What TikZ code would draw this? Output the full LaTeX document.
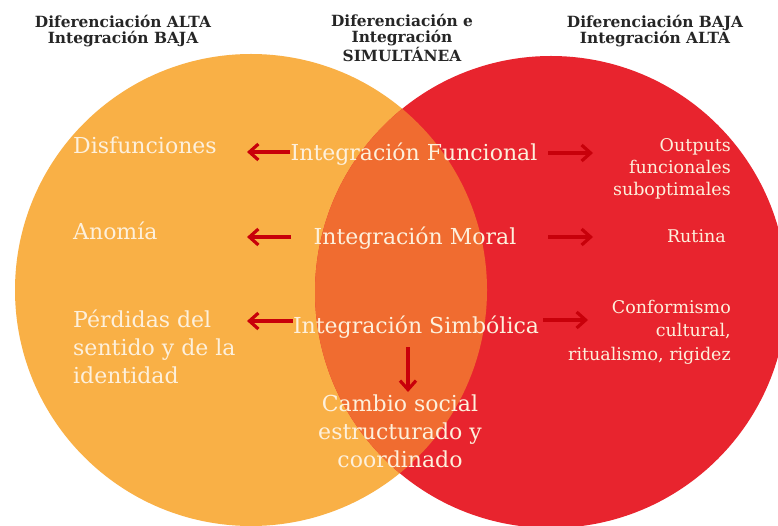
\documentclass[tikz,border=0pt]{standalone}
\usepackage{fontspec}
\setmainfont{DejaVu Serif}
\usetikzlibrary{arrows.meta}
\definecolor{orng}{HTML}{F9B046}
\definecolor{rd}{HTML}{E8242E}
\definecolor{ovl}{HTML}{F06C30}
\definecolor{cream}{HTML}{FDF0DC}
\definecolor{arrred}{HTML}{C8000A}
\definecolor{hdrc}{HTML}{262626}
\begin{document}
\begin{tikzpicture}[x=1pt,y=-1pt,
  hdr/.style={font=\bfseries\fontsize{15.4}{15.5}\selectfont, text=hdrc, align=center, inner sep=0pt},
  lbl/.style={font=\fontsize{22}{28}\selectfont, text=cream, inner sep=0pt},
  sml/.style={font=\fontsize{17.5}{22}\selectfont, text=cream, inner sep=0pt, align=right},
  arr/.style={draw=arrred, line width=3.2pt, -{Straight Barb[length=9pt,width=16pt]}}]
\clip (0,0) rectangle (778,526);
\fill[white] (0,0) rectangle (778,526);
\fill[orng] (251,290) circle (236);
\fill[rd] (551,292) circle (236);
\begin{scope}
\clip (251,290) circle (236);
\fill[ovl] (551,292) circle (236);
\end{scope}
% headers
\node[hdr] (h1) at (123,31) {Diferenciación ALTA\\Integración BAJA};
\node[hdr] (h2) at (402,38) {Diferenciación e\\Integración\\SIMULTÁNEA};
\node[hdr] (h3) at (655,31) {Diferenciación BAJA\\Integración ALTA};
% left
\node[lbl, anchor=base west] (d1) at (73,154) {Disfunciones};
\node[lbl, anchor=base west] (d2) at (73,240) {Anomía};
\node[lbl, anchor=west, align=left] (d3) at (73,347) {Pérdidas del\\sentido y de la\\identidad};
% middle
\node[lbl, anchor=base] (i1) at (414,161) {Integración Funcional};
\node[lbl, anchor=base] (i2) at (415,245) {Integración Moral};
\node[lbl, anchor=base] (i3) at (416,333) {Integración Simbólica};
\node[lbl, align=center] (cs) at (400,431) {Cambio social\\estructurado y\\coordinado};
% right
\node[sml, anchor=east] (o1) at (731,169) {Outputs\\funcionales\\suboptimales};
\node[sml, anchor=base east] (o2) at (726,243) {Rutina};
\node[sml, anchor=east, font=\fontsize{17.5}{23.5}\selectfont] (o3) at (731,332) {Conformismo\\cultural,\\ritualismo, rigidez};
% arrow coordinates
\coordinate (l1) at (247,152);
\coordinate (l2s) at (291,237);
\coordinate (l2) at (247,237);
\coordinate (l3) at (247,321);
\coordinate (r1s) at (548,153);
\coordinate (r1) at (593,153);
\coordinate (r2s) at (548,237);
\coordinate (r2) at (593,237);
\coordinate (r3s) at (543,320);
\coordinate (r3) at (588,320);
\coordinate (ds) at (408,347);
\coordinate (de) at (408,392);
\draw[arr] (i1.west |- l1) -- (l1);
\draw[arr] (l2s) -- (l2);
\draw[arr] (i3.west |- l3) -- (l3);
\draw[arr] (r1s) -- (r1);
\draw[arr] (r2s) -- (r2);
\draw[arr] (r3s) -- (r3);
\draw[arr] (ds) -- (de);
\end{tikzpicture}
\end{document}
